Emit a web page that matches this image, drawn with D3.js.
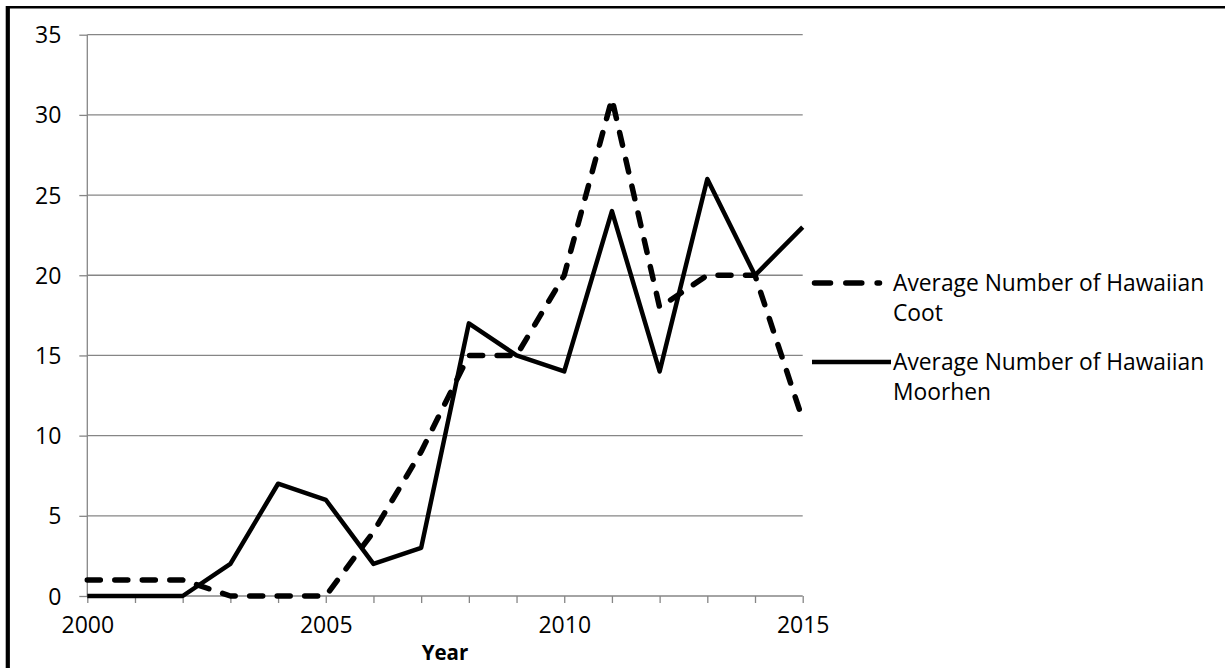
<!DOCTYPE html>
<html><head><meta charset="utf-8">
<script src="https://cdn.jsdelivr.net/npm/d3@7"></script>
<style>body{margin:0;background:#fff}svg{display:block}text{font-family:"Open Sans",sans-serif;fill:#000}</style>
</head><body>
<svg id="c" width="1225" height="668"></svg>
<script>
const years = [2000,2001,2002,2003,2004,2005,2006,2007,2008,2009,2010,2011,2012,2013,2014,2015];
const cootValues = [1,1,1,0,0,0,4,9,15,15,20,31,18,20,20,11];
const moorhenValues = [0,0,0,2,7,6,2,3,17,15,14,24,14,26,20,23];
const yTicks = [0,5,10,15,20,25,30,35];
const xTickLabels = [2000,2005,2010,2015];
const seriesNames = [["Average Number of Hawaiian","Coot"],["Average Number of Hawaiian","Moorhen"]];
const xTitle = "Year";

const svg = d3.select("#c");
const x = d3.scaleLinear().domain([2000,2015]).range([87.3,802.7]);
const y = d3.scaleLinear().domain([0,35]).range([596,34.7]);
const grey = "#868686";

// frame
svg.append("line").attr("x1",6).attr("x2",1225).attr("y1",7.3).attr("y2",7.3).attr("stroke","#000").attr("stroke-width",2.6);
svg.append("line").attr("x1",7.8).attr("x2",7.8).attr("y1",6).attr("y2",668).attr("stroke","#000").attr("stroke-width",4.2);

// gridlines
svg.append("g").selectAll("line").data(yTicks.filter(d=>d>0)).join("line")
  .attr("x1",x(2000)).attr("x2",x(2015)).attr("y1",d=>y(d)).attr("y2",d=>y(d))
  .attr("stroke",grey).attr("stroke-width",1.3);

// y axis
const yAxis = svg.append("g").attr("transform",`translate(${x(2000)},0)`)
  .call(d3.axisLeft(y).tickValues(yTicks).tickSize(8).tickPadding(18).tickFormat(d3.format("d")));
yAxis.select(".domain").attr("stroke",grey).attr("stroke-width",1.3).attr("d",`M0,${y(0)}V${y(35)}`);
yAxis.selectAll(".tick line").attr("stroke",grey).attr("stroke-width",1.3);
yAxis.selectAll(".tick text").attr("font-size",23).attr("font-family","'Open Sans',sans-serif").attr("fill","#000").attr("dy","0.35em");

// x axis
const xAxis = svg.append("g").attr("transform",`translate(0,${y(0)})`)
  .call(d3.axisBottom(x).tickValues(years).tickSize(7).tickPadding(14).tickFormat(d=>xTickLabels.includes(d)?d:""));
xAxis.select(".domain").attr("stroke",grey).attr("stroke-width",1.3).attr("d",`M${x(2000)},0H${x(2015)}`);
xAxis.selectAll(".tick line").attr("stroke",grey).attr("stroke-width",1.3);
xAxis.selectAll(".tick text").attr("font-size",23).attr("font-family","'Open Sans',sans-serif").attr("fill","#000").attr("dy","0.71em");

svg.append("text").attr("x",(x(2000)+x(2015))/2).attr("y",660).attr("text-anchor","middle")
  .attr("font-size",20.5).attr("font-weight","bold").text(xTitle);

// lines
const line = d3.line().x((d,i)=>x(years[i])).y(d=>y(d));
svg.append("path").datum(cootValues).attr("d",line).attr("fill","none").attr("stroke","#000")
  .attr("stroke-width",5.5).attr("stroke-dasharray","13,14.5").attr("stroke-linecap","round").attr("stroke-linejoin","round");
svg.append("path").datum(moorhenValues).attr("d",line).attr("fill","none").attr("stroke","#000")
  .attr("stroke-width",4.5).attr("stroke-linejoin","round");

// legend
const leg = [{y:283,dash:"16,15.3",w:5.5,cap:"round",x1:814.5,x2:879.5},{y:362,dash:null,w:4.5,cap:"butt",x1:812,x2:891}];
leg.forEach((l,i)=>{
  const ln = svg.append("line").attr("x1",l.x1).attr("x2",l.x2).attr("y1",l.y).attr("y2",l.y)
    .attr("stroke","#000").attr("stroke-width",l.w).attr("stroke-linecap",l.cap);
  if(l.dash) ln.attr("stroke-dasharray",l.dash);
  const t = svg.append("text").attr("x",893).attr("y",l.y+8).attr("font-size",22.8);
  seriesNames[i].forEach((s,j)=>t.append("tspan").attr("x",893).attr("dy",j?29.5:0).text(s));
});
</script>
</body></html>
